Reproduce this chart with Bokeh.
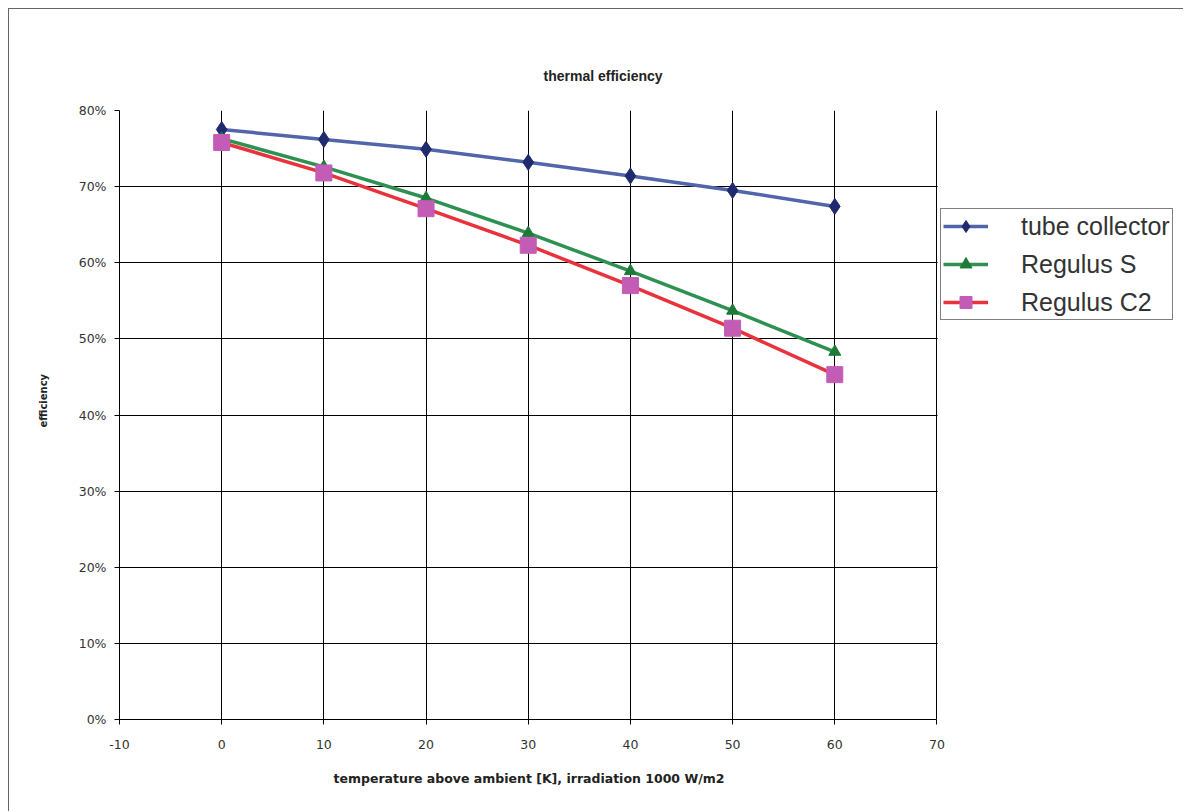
from bokeh.plotting import figure
from bokeh.models import (Range1d, FixedTicker, NumeralTickFormatter, Legend, LegendItem,
                          BoxAnnotation, Title)
from bokeh.embed import file_html
from bokeh.resources import INLINE

# ---- data ----
temps = [0, 10, 20, 30, 40, 50, 60]
tube_collector = [0.775, 0.762, 0.749, 0.732, 0.714, 0.695, 0.674]
regulus_s = [0.763, 0.726, 0.685, 0.639, 0.589, 0.537, 0.483]
regulus_c2 = [0.758, 0.718, 0.671, 0.623, 0.570, 0.514, 0.453]
x_ticks = [-10, 0, 10, 20, 30, 40, 50, 60, 70]
y_ticks = [0, 0.1, 0.2, 0.3, 0.4, 0.5, 0.6, 0.7, 0.8]
x_min, x_max = -10, 70

# layout (pixels)
W, H = 1175, 803
LEFT, TOP, BOTTOM = 108, 101, 93
FRAME_W = W - LEFT            # frame extends to the right edge; legend lives there
AXIS_W = 819                  # pixel width of the -10..70 span
x_end = x_min + (x_max - x_min) * FRAME_W / AXIS_W

p = figure(width=W, height=H, output_backend="svg", toolbar_location=None,
           x_range=Range1d(x_min, x_end), y_range=Range1d(0, 0.8),
           min_border_left=LEFT, min_border_right=0, min_border_top=TOP,
           min_border_bottom=BOTTOM)
p.margin = (8, 0, 0, 8)
p.styles = {"border-left": "1px solid #666666", "border-top": "1px solid #666666"}

p.title.text = "thermal efficiency"
p.title.text_font = "Liberation Sans"
p.title.text_font_size = "14px"
p.title.text_font_style = "bold"
p.title.text_color = "#222222"
p.title.align = "left"
p.title.offset = 424
p.title.standoff = 54

p.outline_line_color = None
p.background_fill_color = "white"
p.border_fill_color = "white"

for ax in (p.xaxis[0], p.yaxis[0]):
    ax.axis_line_color = "black"
    ax.major_tick_line_color = "black"
    ax.major_tick_out = 5
    ax.major_tick_in = 0
    ax.minor_tick_line_color = None
    ax.major_label_text_font = "DejaVu Sans"
    ax.major_label_text_font_size = "12.5px"
    ax.major_label_text_color = "#333333"

p.xaxis.bounds = (x_min, x_max)
p.xaxis.ticker = FixedTicker(ticks=x_ticks)
p.yaxis.ticker = FixedTicker(ticks=y_ticks)
p.xaxis.formatter = NumeralTickFormatter(format="0")
p.yaxis.formatter = NumeralTickFormatter(format="0%")
p.xaxis.major_label_standoff = 15
p.yaxis.major_label_standoff = 8

p.xgrid.ticker = FixedTicker(ticks=x_ticks)
p.ygrid.ticker = FixedTicker(ticks=y_ticks)
p.xgrid.grid_line_color = "black"
p.ygrid.grid_line_color = "black"
p.xgrid.grid_line_width = 1
p.ygrid.grid_line_width = 1

# blank out the region right of the plot area (legend area)
p.add_layout(BoxAnnotation(left=x_max + 0.06, fill_color="white", fill_alpha=1,
                           line_color=None))

# axis titles
xt = Title(text="temperature above ambient [K], irradiation 1000 W/m2",
           text_font="DejaVu Sans", text_font_size="12.5px", text_font_style="bold",
           text_color="#222222", align="left", offset=214, standoff=34)
p.add_layout(xt, "below")
yt = Title(text="efficiency", text_font="DejaVu Sans", text_font_size="10px",
           text_font_style="bold", text_color="#222222", align="left", offset=292,
           standoff=53)
p.add_layout(yt, "left")

l1 = p.line(temps, tube_collector, line_color="#5264AA", line_width=3.5)
m1 = p.scatter(temps, tube_collector, marker="diamond", size=16,
               fill_color="#1F2B6E", line_color="#1F2B6E")
l2 = p.line(temps, regulus_s, line_color="#2E9152", line_width=3.5)
m2 = p.scatter(temps, regulus_s, marker="triangle", size=12,
               fill_color="#1E7A38", line_color="#1E7A38")
l3 = p.line(temps, regulus_c2, line_color="#E8333C", line_width=3.5)
m3 = p.scatter(temps, regulus_c2, marker="square", size=16,
               fill_color="#C35CB5", line_color="#C35CB5")

legend = Legend(items=[
    LegendItem(label="tube collector", renderers=[l1, m1]),
    LegendItem(label="Regulus S", renderers=[l2, m2]),
    LegendItem(label="Regulus C2", renderers=[l3, m3]),
], location=(AXIS_W + 2, 399))
legend.label_text_font = "Liberation Sans"
legend.label_text_font_size = "25px"
legend.label_text_color = "#333333"
legend.glyph_width = 45
legend.glyph_height = 30
legend.label_height = 30
legend.spacing = 8
legend.label_standoff = 33
legend.padding = 2
legend.margin = 0
legend.border_line_color = "black"
legend.border_line_width = 1
legend.background_fill_color = "white"
legend.background_fill_alpha = 1
p.add_layout(legend)

open("out.html", "w").write(file_html(p, INLINE))
